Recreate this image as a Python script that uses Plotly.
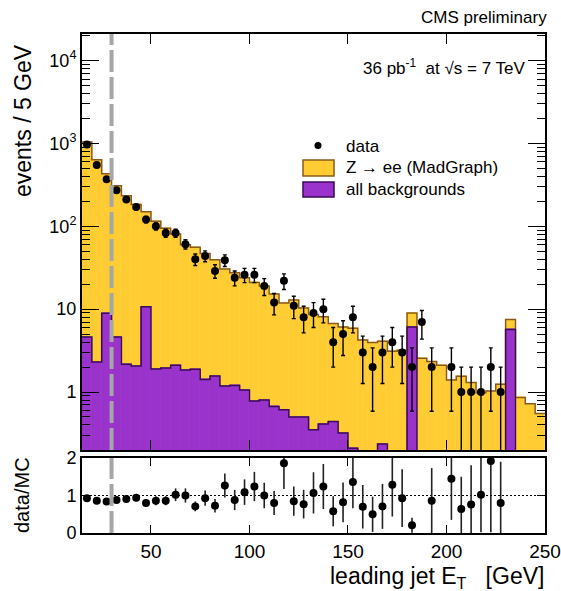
import math
import plotly.graph_objects as go

# ---------------- data ----------------
bin_lo = list(range(15, 250, 5))          # 5 GeV bins, 15 .. 250 GeV
bin_hi_last = 250

data = [970, 550, 370, 272, 211, 171, 121, 100, 83, 83,
        61, 40, 44, 29, 39, 24, 26, 26, 19, 12,
        22, 11, 8, 9, 10, 4, 5, 8, 3, 2,
        3, 4, 3, 2, 7, 2, 0, 2, 1, 1,
        1, 2, 1, 0, 0, 0, 0]

mc_total = [1040, 635, 430, 310, 234, 184, 150, 115, 95, 81,
            60, 56, 47, 39.5, 30.5, 27.5, 24, 21, 19, 15.2,
            11.9, 12.9, 10.3, 8.6, 8.1, 6.7, 6.1, 5.9, 4.25, 3.95,
            4.1, 3.1, 3.2, 9.0, 2.55, 2.33, 2.1, 1.4, 1.55, 1.3,
            0.98, 1.03, 1.24, 7.5, 0.86, 0.72, 0.55]

bkg = [4.6, 2.3, 8.9, 4.6, 2.17, 2.06, 10.7, 1.89, 1.95, 2.1,
       1.84, 1.88, 1.42, 1.56, 1.18, 1.2, 1.06, 0.78, 0.8, 0.67,
       0.61, 0.5, 0.5, 0.35, 0.41, 0.44, 0.32, 0.21, 0, 0,
       0.235, 0, 0, 6.1, 0, 0, 0, 0, 0, 0,
       0, 0, 0, 5.7, 0, 0, 0]

ratio = [0.93, 0.86, 0.84, 0.88, 0.91, 0.94, 0.80, 0.86, 0.86, 1.02,
         1.0, 0.71, 0.93, 0.73, 1.27, 0.88, 1.09, 1.24, 1.0, 0.80,
         1.86, 0.85, 0.77, 1.07, 1.24, 0.58, 0.82, 1.36, 0.70, 0.50,
         0.71, 1.29, 0.93, 0.21, None, 0.86, None, 1.45, 0.64, 0.76,
         1.02, 1.92, 0.80, None, None, None, None]

ratio_err = [0.04, 0.05, 0.06, 0.07, 0.08, 0.09, 0.09, 0.12, 0.12, 0.17,
             0.19, 0.13, 0.2, 0.18, 0.32, 0.27, 0.34, 0.39, 0.34, 0.32,
             0.69, 0.39, 0.38, 0.55, 0.6, 0.4, 0.53, 0.7, 0.58, 0.47,
             0.6, 0.85, 0.77, 0.2, 0, 0.87, 0, 1.1, 0.86, 1.05,
             1.0, 1.9, 1.1, 0, 0, 0, 0]

y_tick_vals = [1, 10, 100, 1000, 10000]
y_tick_text = ["1", "10", "10<sup>2</sup>", "10<sup>3</sup>", "10<sup>4</sup>"]
x_tick_vals = [50, 100, 150, 200, 250]
ratio_tick_vals = [0, 1, 2]
jet_cut = 30

# ---------------- derived ----------------
centers = [lo + 2.5 for lo in bin_lo]
edges = bin_lo + [bin_hi_last]

YELLOW = '#FFCC33'
YELLOW_LINE = '#8B5A1A'
PURPLE = '#9933CC'
PURPLE_LINE = '#3A0A5A'
FONT = 'Liberation Sans, Arial, Helvetica, sans-serif'

fig = go.Figure()

# total MC (Z->ee + backgrounds)
fig.add_trace(go.Bar(x=centers, y=mc_total, width=5,
                     marker=dict(color=YELLOW, line=dict(color=YELLOW, width=0.6)),
                     xaxis='x', yaxis='y', hoverinfo='skip'))
fig.add_trace(go.Scatter(x=edges, y=mc_total + [mc_total[-1]], mode='lines',
                         line=dict(shape='hv', color=YELLOW_LINE, width=1.5),
                         xaxis='x', yaxis='y', hoverinfo='skip'))

# backgrounds
bkg_bar = [v if v > 0 else None for v in bkg]
fig.add_trace(go.Bar(x=centers, y=bkg_bar, width=5,
                     marker=dict(color=PURPLE, line=dict(color=PURPLE, width=0.6)),
                     xaxis='x', yaxis='y', hoverinfo='skip'))
bkg_step = [v if v > 0 else 1e-3 for v in bkg]
fig.add_trace(go.Scatter(x=edges, y=bkg_step + [bkg_step[-1]], mode='lines',
                         line=dict(shape='hv', color=PURPLE_LINE, width=1.5),
                         xaxis='x', yaxis='y', hoverinfo='skip'))

# data
data_y = [v if v > 0 else None for v in data]
data_err = [math.sqrt(v) for v in data]
fig.add_trace(go.Scatter(x=centers, y=data_y, mode='markers',
                         marker=dict(color='black', size=8),
                         error_y=dict(type='data', array=data_err, color='black',
                                      thickness=1.4, width=2),
                         xaxis='x', yaxis='y'))

# ratio
fig.add_trace(go.Scatter(x=centers, y=ratio, mode='markers',
                         marker=dict(color='black', size=8),
                         error_y=dict(type='data', array=ratio_err, color='#222222',
                                      thickness=1.6, width=0),
                         xaxis='x2', yaxis='y2'))

# ---------------- layout ----------------
L, R, T, B = 82, 16, 34, 58
W, H = 561, 591
PW, PH = W - L - R, H - T - B


def px(xp):
    return (xp - L) / PW


def py(yp):
    return (H - B - yp) / PH


main_dom = [py(450), 1]
ratio_dom = [0, py(458)]

minor_vals = [m * 10 ** k for k in range(-1, 5) for m in range(2, 10)]

axis_common = dict(showgrid=False, zeroline=False, showline=True, linecolor='black',
                   linewidth=2, mirror='ticks', ticks='inside', tickcolor='black',
                   tickwidth=1)

fig.update_layout(
    width=W, height=H, autosize=False,
    margin=dict(l=L, r=R, t=T, b=B, autoexpand=False),
    paper_bgcolor='white', plot_bgcolor='white',
    showlegend=False, barmode='overlay', bargap=0,
    font=dict(family=FONT, color='black'),
    xaxis=dict(domain=[0, 1], range=[15, 250], anchor='y',
               tickmode='array', tickvals=x_tick_vals, showticklabels=False,
               ticklen=10, **axis_common),
    yaxis=dict(domain=main_dom, type='log', range=[-0.70, 4.322], anchor='x',
               tickmode='array', tickvals=y_tick_vals, ticktext=y_tick_text,
               ticklen=17, tickfont=dict(size=18),
               minor=dict(tickmode='array', tickvals=minor_vals, ticks='inside',
                          ticklen=8, tickcolor='black', tickwidth=1),
               **axis_common),
    xaxis2=dict(domain=[0, 1], range=[15, 250], anchor='y2', matches='x',
                tickmode='array', tickvals=x_tick_vals, ticklen=8,
                tickfont=dict(size=19), **axis_common),
    yaxis2=dict(domain=ratio_dom, range=[0, 2], anchor='x2',
                tickmode='array', tickvals=ratio_tick_vals, ticklen=8,
                tickfont=dict(size=18), **axis_common),
)

shapes = []
# jet threshold dashed line, both panels
for yr in ['y domain', 'y2 domain']:
    shapes.append(dict(type='line', xref='x', yref=yr, x0=jet_cut, x1=jet_cut,
                       y0=0, y1=1, line=dict(color='#A6A6A6', width=4, dash='22px,5px'),
                       layer='above'))
# ratio = 1 reference line
shapes.append(dict(type='line', xref='x2 domain', yref='y2', x0=0, x1=1, y0=1, y1=1,
                   line=dict(color='black', width=1, dash='2px,2px'), layer='below'))
# legend symbols
shapes.append(dict(type='circle', xref='paper', yref='paper',
                   x0=px(314.5), x1=px(321.5), y0=py(149), y1=py(142),
                   fillcolor='black', line=dict(color='black', width=0)))
shapes.append(dict(type='rect', xref='paper', yref='paper',
                   x0=px(303), x1=px(334), y0=py(176), y1=py(160),
                   fillcolor=YELLOW, line=dict(color=YELLOW_LINE, width=1.5)))
shapes.append(dict(type='rect', xref='paper', yref='paper',
                   x0=px(303), x1=px(334), y0=py(197), y1=py(182),
                   fillcolor=PURPLE, line=dict(color=PURPLE_LINE, width=1.5)))
fig.update_layout(shapes=shapes)

ann = []
ann.append(dict(text='events / 5 GeV', textangle=-90, xref='paper', yref='paper',
                x=px(23), y=py(121), xanchor='center', yanchor='middle',
                showarrow=False, font=dict(size=23)))
ann.append(dict(text='data/MC', textangle=-90, xref='paper', yref='paper',
                x=px(22), y=py(495), xanchor='center', yanchor='middle',
                showarrow=False, font=dict(size=20)))
ann.append(dict(text='leading jet E<sub>T</sub>\u00a0\u00a0\u00a0[GeV]', xref='paper', yref='paper',
                x=px(546), y=py(577), xanchor='right', yanchor='middle',
                showarrow=False, font=dict(size=23)))
ann.append(dict(text='CMS preliminary', xref='paper', yref='paper',
                x=px(549), y=py(18), xanchor='right', yanchor='middle',
                showarrow=False, font=dict(size=17)))
ann.append(dict(text='36 pb<sup>-1</sup>\u00a0 at \u221As = 7 TeV', xref='paper', yref='paper',
                x=px(528), y=py(67), xanchor='right', yanchor='middle',
                showarrow=False, font=dict(size=17)))
for txt, yy in [('data', 146), ('Z \u2192 ee (MadGraph)', 167), ('all backgrounds', 189)]:
    ann.append(dict(text=txt, xref='paper', yref='paper', x=px(344), y=py(yy),
                    xanchor='left', yanchor='middle', showarrow=False,
                    font=dict(size=17)))
fig.update_layout(annotations=ann)

fig.write_html('out.html',
               config={'displayModeBar': False, 'responsive': False},
               post_script="document.body.style.margin='0px';"
                           "document.body.style.padding='0px';"
                           "document.body.style.overflow='hidden';")
